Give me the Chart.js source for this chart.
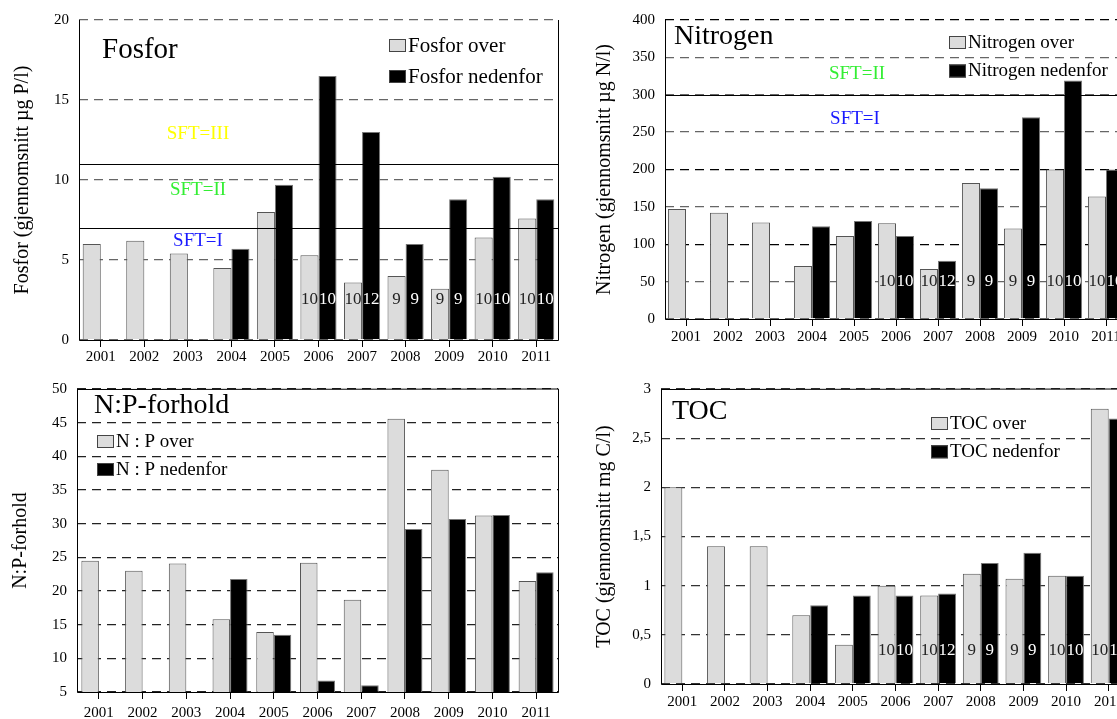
<!DOCTYPE html>
<html>
<head>
<meta charset="utf-8">
<script src="https://cdn.jsdelivr.net/npm/chart.js@4"></script>
<style>
  html, body { margin: 0; padding: 0; width: 1117px; height: 719px; overflow: hidden; background: #fff; }
  canvas { position: absolute; }
</style>
</head>
<body>
<canvas id="fosfor" width="565" height="370" style="left:0;top:0"></canvas>
<canvas id="nitrogen" width="610" height="370" style="left:560px;top:0"></canvas>
<canvas id="np" width="565" height="349" style="left:0;top:370px"></canvas>
<canvas id="toc" width="610" height="349" style="left:560px;top:370px"></canvas>
<script>
const years = ['2001', '2002', '2003', '2004', '2005', '2006', '2007', '2008', '2009', '2010', '2011'];

const fosforOver = [6.0, 6.2, 5.4, 4.5, 8.0, 5.3, 3.6, 4.0, 3.2, 6.4, 7.6];
const fosforNedenfor = [null, null, null, 5.7, 9.7, 16.5, 13.0, 6.0, 8.8, 10.2, 8.8];
const fosforLimits = [11, 7];

const nitrogenOver = [147, 142, 129, 71, 111, 128, 67, 182, 121, 200, 164];
const nitrogenNedenfor = [null, null, null, 124, 131, 111, 78, 175, 270, 319, 200];
const nitrogenLimits = [300];

const npOver = [24.5, 23.0, 24.1, 15.8, 13.9, 24.2, 18.7, 45.6, 38.0, 31.2, 21.5];
const npNedenfor = [null, null, null, 21.8, 13.5, 6.7, 6.0, 29.2, 30.7, 31.3, 22.8];

const tocOver = [2.0, 1.4, 1.4, 0.7, 0.4, 1.0, 0.9, 1.12, 1.07, 1.1, 2.8];
const tocNedenfor = [null, null, null, 0.8, 0.9, 0.9, 0.92, 1.23, 1.335, 1.1, 2.7];

// antall prøver per år
const countsOver = [null, null, null, null, null, 10, 10, 9, 9, 10, 10];
const countsNedenfor = [null, null, null, null, null, 10, 12, 9, 9, 10, 10];

const serif = "'Liberation Serif', 'Times New Roman', serif";

function makePanel(cfg) {
  return {
    id: 'panel',
    afterDatasetsDraw(chart) {
      const { ctx, chartArea: a, scales: { y } } = chart;
      ctx.save();
      // grenseverdier
      ctx.strokeStyle = '#000';
      ctx.lineWidth = 1;
      (cfg.limits || []).forEach(v => {
        const py = Math.round(y.getPixelForValue(v)) + 0.5;
        ctx.beginPath(); ctx.moveTo(a.left, py); ctx.lineTo(a.right, py); ctx.stroke();
      });
      // ramme
      ctx.beginPath();
      ctx.moveTo(Math.round(a.left) + 0.5, a.top);
      ctx.lineTo(Math.round(a.left) + 0.5, Math.round(a.bottom) + 0.5);
      ctx.lineTo(Math.round(a.right) + 0.5, Math.round(a.bottom) + 0.5);
      ctx.lineTo(Math.round(a.right) + 0.5, a.top);
      if (cfg.topSolid) ctx.lineTo(Math.round(a.left) + 0.5, Math.round(a.top) + 0.5);
      ctx.stroke();
      // antall
      if (cfg.countAt != null) {
        ctx.font = '17px ' + serif;
        ctx.textAlign = 'center';
        ctx.textBaseline = 'middle';
        const py = y.getPixelForValue(cfg.countAt);
        [countsOver, countsNedenfor].forEach((cnt, i) => {
          chart.getDatasetMeta(i).data.forEach((bar, j) => {
            if (cnt[j] == null) return;
            ctx.fillStyle = i === 0 ? '#222' : '#fff';
            ctx.fillText(String(cnt[j]), bar.x, py);
          });
        });
      }
      // SFT-tekster
      ctx.font = '19px ' + serif;
      ctx.textAlign = 'center';
      ctx.textBaseline = 'middle';
      (cfg.sft || []).forEach(s => {
        ctx.fillStyle = s.color;
        ctx.fillText(s.text, s.x, s.y);
      });
      // tittel
      ctx.fillStyle = '#000';
      ctx.textAlign = 'left';
      ctx.textBaseline = 'alphabetic';
      ctx.font = cfg.titleSize + 'px ' + serif;
      ctx.fillText(cfg.title, cfg.titleX, cfg.titleY);
      // forklaring
      ctx.font = cfg.legSize + 'px ' + serif;
      ctx.textBaseline = 'middle';
      chart.data.datasets.forEach((ds, i) => {
        const cy = cfg.legY + i * cfg.legGap;
        ctx.fillStyle = ds.backgroundColor;
        ctx.fillRect(cfg.legX, cy - 6, 17, 13);
        ctx.strokeStyle = '#444';
        ctx.strokeRect(cfg.legX + 0.5, cy - 6 + 0.5, 16, 12);
        ctx.fillStyle = '#000';
        ctx.fillText(ds.label, cfg.legX + 19, cy + 1);
      });
      ctx.restore();
    }
  };
}

function panel(id, cfg) {
  new Chart(document.getElementById(id), {
    type: 'bar',
    data: {
      labels: years,
      datasets: [
        { label: cfg.names[0], data: cfg.over, backgroundColor: '#dcdcdc', borderColor: '#555', borderWidth: 1 },
        { label: cfg.names[1], data: cfg.nedenfor, backgroundColor: '#000', borderColor: '#777', borderWidth: 1 }
      ]
    },
    options: {
      responsive: false,
      animation: false,
      categoryPercentage: cfg.catPct,
      barPercentage: 1,
      layout: { padding: { left: 0, top: cfg.top, right: cfg.right, bottom: 0 } },
      plugins: { legend: { display: false }, tooltip: { enabled: false } },
      scales: {
        x: {
          grid: { display: true, drawOnChartArea: false, offset: false, tickLength: 7, color: '#000' },
          border: { display: false },
          ticks: { font: { family: serif, size: 15 }, color: '#000', padding: cfg.xPad, autoSkip: false, maxRotation: 0 },
          afterFit: s => { s.height = cfg.xH; }
        },
        y: {
          min: cfg.min, max: cfg.max,
          ticks: {
            stepSize: cfg.step, font: { family: serif, size: 15 }, color: '#000', padding: 10,
            callback: v => String(v).replace('.', ',')
          },
          grid: { color: cfg.gridColor, lineWidth: 1.3, drawTicks: false },
          border: { display: false, dash: [9, 6] },
          title: { display: true, text: cfg.yTitle, font: { family: serif, size: 20 }, color: '#000', padding: { top: cfg.yTitlePad, bottom: 0 } },
          afterFit: s => { s.width = cfg.yW; }
        }
      }
    },
    plugins: [makePanel(cfg)]
  });
}

panel('fosfor', {
  names: ['Fosfor over', 'Fosfor nedenfor'], over: fosforOver, nedenfor: fosforNedenfor,
  min: 0, max: 20, step: 5, limits: fosforLimits, countAt: 2.5,
  yTitle: 'Fosfor (gjennomsnitt µg P/l)', yTitlePad: 11, yW: 79, xH: 30, xPad: 1, top: 20, right: 7, catPct: 0.83,
  gridColor: '#666', title: 'Fosfor', titleX: 102, titleY: 58, titleSize: 29,
  legX: 389, legY: 45, legGap: 31, legSize: 21,
  sft: [
    { text: 'SFT=III', color: '#ffff00', x: 198, y: 134 },
    { text: 'SFT=II', color: '#33ee33', x: 198, y: 190 },
    { text: 'SFT=I', color: '#1a1aff', x: 198, y: 241 }
  ]
});

panel('nitrogen', {
  names: ['Nitrogen over', 'Nitrogen nedenfor'], over: nitrogenOver, nedenfor: nitrogenNedenfor,
  min: 0, max: 400, step: 50, limits: nitrogenLimits, countAt: 50,
  yTitle: 'Nitrogen (gjennomsnitt µg N/l)', yTitlePad: 33, yW: 105, xH: 51, xPad: 2, top: 20, right: 43, catPct: 0.86,
  gridColor: c => (c.tick && (c.tick.value === 100 || c.tick.value === 200 || c.tick.value === 400)) ? '#000' : '#666',
  title: 'Nitrogen', titleX: 114, titleY: 44, titleSize: 28,
  legX: 389, legY: 42, legGap: 28.5, legSize: 19,
  sft: [
    { text: 'SFT=II', color: '#33ee33', x: 297, y: 74 },
    { text: 'SFT=I', color: '#1a1aff', x: 295, y: 119 }
  ]
});

panel('np', {
  names: ['N : P over', 'N : P nedenfor'], over: npOver, nedenfor: npNedenfor,
  min: 5, max: 50, step: 5, limits: [], countAt: null, topSolid: true,
  yTitle: 'N:P-forhold', yTitlePad: 9, yW: 77, xH: 27, xPad: 5, top: 14, right: 7, catPct: 0.8,
  gridColor: '#222', title: 'N:P-forhold', titleX: 94, titleY: 43, titleSize: 28,
  legX: 97, legY: 71, legGap: 28, legSize: 19,
  sft: []
});

panel('toc', {
  names: ['TOC over', 'TOC nedenfor'], over: tocOver, nedenfor: tocNedenfor,
  min: 0, max: 3, step: 0.5, limits: [], countAt: 0.34, topSolid: true,
  yTitle: 'TOC (gjennomsnitt mg C/l)', yTitlePad: 33, yW: 101, xH: 35, xPad: 2, top: 13, right: 40, catPct: 0.84,
  gridColor: '#333', title: 'TOC', titleX: 112, titleY: 49, titleSize: 28,
  legX: 371, legY: 53, legGap: 28.3, legSize: 19,
  sft: []
});
</script>
</body>
</html>
